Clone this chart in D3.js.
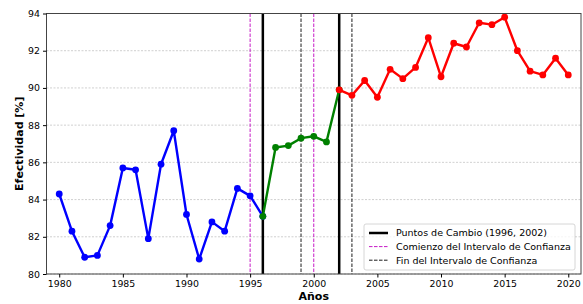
<!DOCTYPE html>
<html>
<head>
<meta charset="utf-8">
<script src="https://d3js.org/d3.v7.min.js"></script>
<style>
  body { margin: 0; background: #fff; }
  text { font-family: "DejaVu Sans", sans-serif; }
</style>
</head>
<body>
<svg width="583" height="304"></svg>
<script>
// data
var yearsA = d3.range(1980, 1997);
var valuesA = [84.3, 82.3, 80.9, 81.0, 82.6, 85.7, 85.6, 81.9, 85.9, 87.7, 83.2, 80.8, 82.8, 82.3, 84.6, 84.2, 83.1];
var yearsB = d3.range(1996, 2003);
var valuesB = [83.1, 86.8, 86.9, 87.3, 87.4, 87.1, 89.9];
var yearsC = d3.range(2002, 2021);
var valuesC = [89.9, 89.6, 90.4, 89.5, 91.0, 90.5, 91.1, 92.7, 90.6, 92.4, 92.2, 93.5, 93.4, 93.8, 92.0, 90.9, 90.7, 91.6, 90.7];
var changePoints = [1996, 2002];
var ciStart = [1995, 2000];
var ciEnd = [1999, 2003];
var xTicks = [1980, 1985, 1990, 1995, 2000, 2005, 2010, 2015, 2020];
var yTicks = [80, 82, 84, 86, 88, 90, 92, 94];
var legendLabels = ["Puntos de Cambio (1996, 2002)", "Comienzo del Intervalo de Confianza", "Fin del Intervalo de Confianza"];

var svg = d3.select("svg");
var m = {left: 46.5, right: 581, top: 13.5, bottom: 274};

var x = d3.scaleLinear().domain([1979, 2021]).range([m.left, m.right]);
var y = d3.scaleLinear().domain([80, 94]).range([m.bottom, m.top]);

// grid
svg.append("g").selectAll("line")
  .data(yTicks)
  .enter().append("line")
    .attr("x1", m.left).attr("x2", m.right)
    .attr("y1", function(d) { return y(d); })
    .attr("y2", function(d) { return y(d); })
    .attr("stroke", "#b0b0b0")
    .attr("stroke-width", 0.6)
    .attr("stroke-dasharray", "2,1.5");

// vertical markers
function vlines(data, color, width, dash) {
  svg.append("g").selectAll("line")
    .data(data)
    .enter().append("line")
      .attr("x1", function(d) { return x(d); })
      .attr("x2", function(d) { return x(d); })
      .attr("y1", m.top).attr("y2", m.bottom)
      .attr("stroke", color)
      .attr("stroke-width", width)
      .attr("stroke-dasharray", dash);
}
vlines(ciStart, "#c000c0", 0.9, "3.5,1.5");
vlines(ciEnd, "#000", 0.9, "3.5,1.5");
vlines(changePoints, "#000", 2.5, null);

// series
var line = d3.line()
  .x(function(d) { return x(d[0]); })
  .y(function(d) { return y(d[1]); });

function series(years, values, color) {
  var pts = d3.zip(years, values);
  svg.append("path")
    .datum(pts)
    .attr("fill", "none")
    .attr("stroke", color)
    .attr("stroke-width", 2.4)
    .attr("stroke-linejoin", "round")
    .attr("d", line);
  svg.append("g").selectAll("circle")
    .data(pts)
    .enter().append("circle")
      .attr("cx", function(d) { return x(d[0]); })
      .attr("cy", function(d) { return y(d[1]); })
      .attr("r", 3.4)
      .attr("fill", color);
}
series(yearsA, valuesA, "#0000ff");
series(yearsB, valuesB, "#008000");
series(yearsC, valuesC, "#ff0000");

// frame
svg.append("rect")
  .attr("x", m.left).attr("y", m.top)
  .attr("width", m.right - m.left).attr("height", m.bottom - m.top)
  .attr("fill", "none")
  .attr("stroke", "#444")
  .attr("stroke-width", 1);

// axes
var xAxis = svg.append("g")
  .attr("transform", "translate(0," + m.bottom + ")")
  .call(d3.axisBottom(x).tickValues(xTicks).tickFormat(d3.format("d")).tickSize(3.5).tickPadding(3));
var yAxis = svg.append("g")
  .attr("transform", "translate(" + m.left + ",0)")
  .call(d3.axisLeft(y).tickValues(yTicks).tickSize(3.5).tickPadding(3));
[xAxis, yAxis].forEach(function(a) {
  a.select(".domain").remove();
  a.selectAll("text").attr("font-size", 9.4).attr("fill", "#000");
  a.selectAll("line").attr("stroke", "#000");
});

svg.append("text")
  .attr("x", (m.left + m.right) / 2)
  .attr("y", 300)
  .attr("text-anchor", "middle")
  .attr("font-size", 11)
  .attr("font-weight", "bold")
  .text("Años");

svg.append("text")
  .attr("transform", "translate(23," + ((m.top + m.bottom) / 2) + ") rotate(-90)")
  .attr("text-anchor", "middle")
  .attr("font-size", 11)
  .attr("font-weight", "bold")
  .text("Efectividad [%]");

// legend
var lg = svg.append("g").attr("transform", "translate(364,224)");
lg.append("rect")
  .attr("width", 211).attr("height", 46)
  .attr("rx", 2)
  .attr("fill", "#fff")
  .attr("fill-opacity", 0.8)
  .attr("stroke", "#ccc")
  .attr("stroke-width", 0.8);
var legendStyles = [
  {color: "#000", width: 2.5, dash: null},
  {color: "#c000c0", width: 0.9, dash: "3.5,1.5"},
  {color: "#000", width: 0.9, dash: "3.5,1.5"}
];
var items = lg.selectAll("g.item")
  .data(legendLabels)
  .enter().append("g")
    .attr("class", "item")
    .attr("transform", function(d, i) { return "translate(0," + (9 + i * 13.6) + ")"; });
items.append("line")
  .attr("x1", 5).attr("x2", 24)
  .attr("stroke", function(d, i) { return legendStyles[i].color; })
  .attr("stroke-width", function(d, i) { return legendStyles[i].width; })
  .attr("stroke-dasharray", function(d, i) { return legendStyles[i].dash; });
items.append("text")
  .attr("x", 32)
  .attr("dy", "0.35em")
  .attr("font-size", 9.5)
  .text(function(d) { return d; });
</script>
</body>
</html>
